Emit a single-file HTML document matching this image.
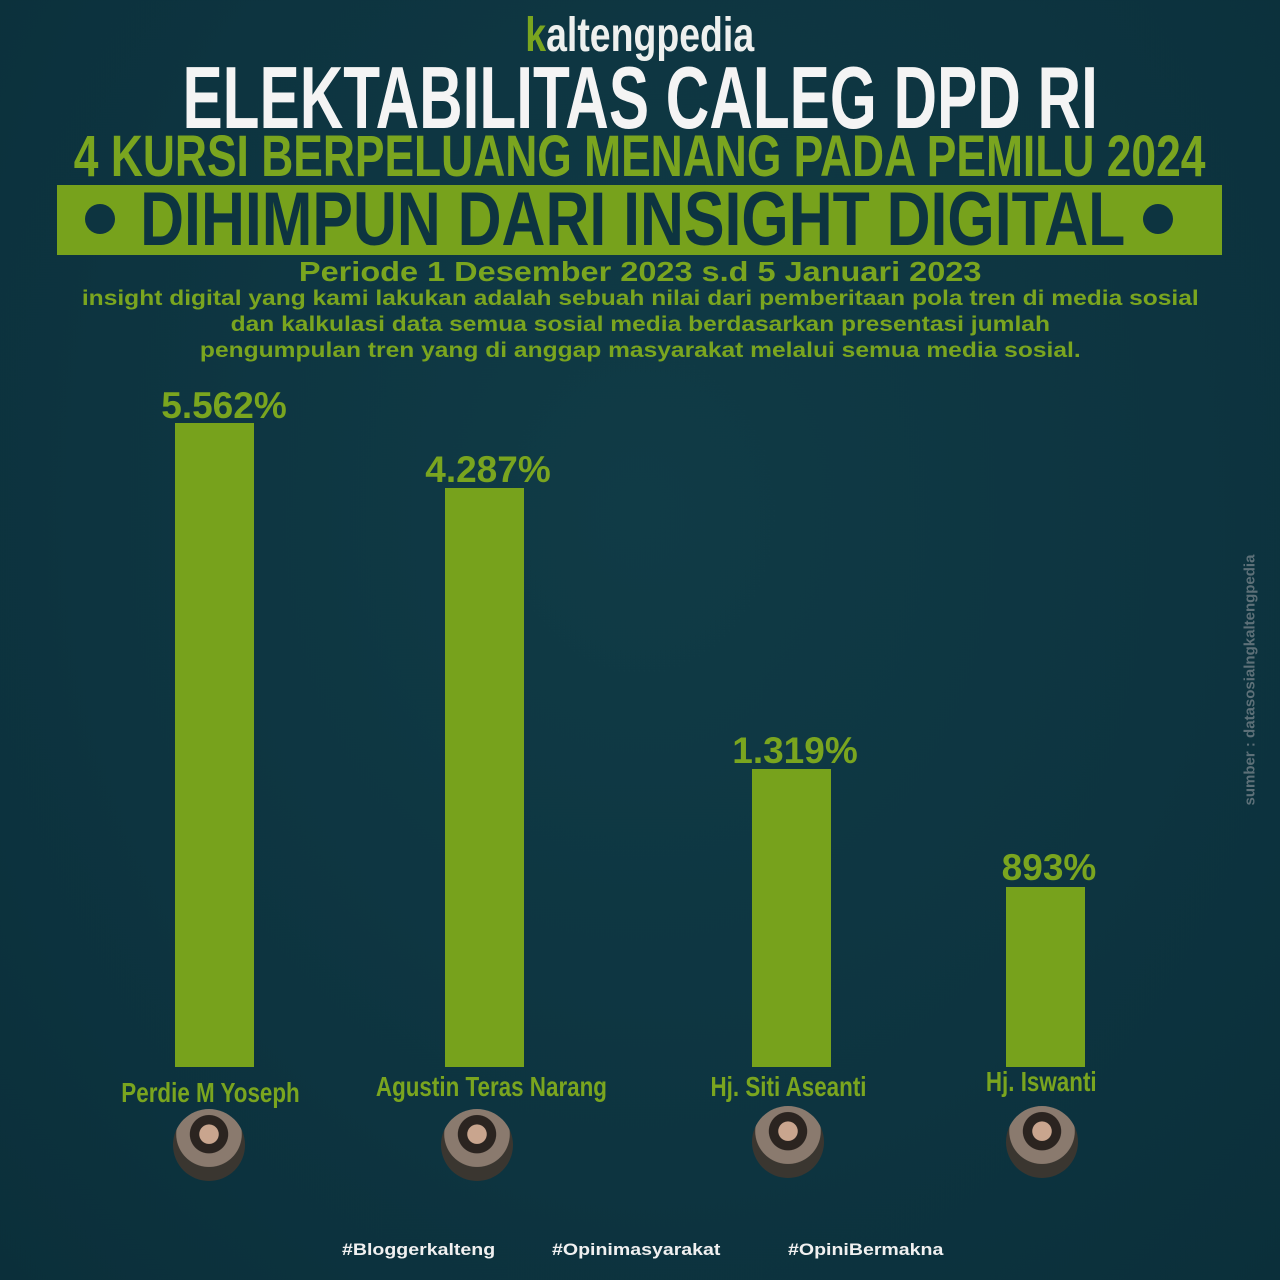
<!DOCTYPE html>
<html><head><meta charset="utf-8"><style>
html,body{margin:0;padding:0}
body{width:1280px;height:1280px;position:relative;overflow:hidden;background:radial-gradient(ellipse at 50% 40%,#103b46 0%,#0d3440 60%,#0b2f3a 100%);font-family:"Liberation Sans",sans-serif;font-weight:bold}
.c{position:absolute;left:-1000px;width:3280px;text-align:center;white-space:nowrap}
.c span{display:inline-block}
.g{color:#7aa51f}
.bar{position:absolute;background:#77a21c;bottom:213px;width:79px}
.lab{position:absolute;width:240px;text-align:center;color:#7aa51f;font-size:37px;white-space:nowrap}
.nm{position:absolute;width:300px;text-align:center;color:#7aa51f;font-size:28px;white-space:nowrap}
.nm span{display:inline-block;transform:scaleX(0.8)}
.ph{position:absolute;width:72px;height:72px;border-radius:50%;background:radial-gradient(circle at 50% 35%,#c9a58e 0 16%,#2b2420 17% 32%,#8a7a6e 33% 55%,#3a3630 56%)}
.ht{position:absolute;top:1240px;color:#f0f0f0;font-size:17px;white-space:nowrap}
.ht span{display:inline-block;transform:scaleX(1.15);transform-origin:left}
</style></head><body>
<div class="c" style="top:8px;font-size:48px;color:#eef0ee"><span style="transform:scaleX(0.78)"><span style="color:#7aa51f">k</span>altengpedia</span></div>
<div class="c" style="top:54px;font-size:88px;color:#f4f4f4;line-height:88px"><span style="transform:scaleX(0.685)">ELEKTABILITAS CALEG DPD RI</span></div>
<div class="c g" style="top:128px;font-size:58px;line-height:58px"><span style="transform:scaleX(0.765)">4 KURSI BERPELUANG MENANG PADA PEMILU 2024</span></div>
<div style="position:absolute;left:57px;top:185px;width:1165px;height:70px;background:#77a21c"></div>
<div style="position:absolute;left:85px;top:204px;width:30px;height:30px;border-radius:50%;background:#0d3440"></div>
<div style="position:absolute;left:1143px;top:204px;width:30px;height:30px;border-radius:50%;background:#0d3440"></div>
<div class="c" style="top:182px;font-size:76px;line-height:76px;color:#0d3440;left:-1007px"><span style="transform:scaleX(0.8)">DIHIMPUN DARI INSIGHT DIGITAL</span></div>
<div class="c g" style="top:256px;font-size:28px;line-height:32px"><span style="transform:scaleX(1.16)">Periode 1 Desember 2023 s.d 5 Januari 2023</span></div>
<div class="c g" style="top:286px;font-size:21px;line-height:26px"><span style="transform:scaleX(1.17)">insight digital yang kami lakukan adalah sebuah nilai dari pemberitaan pola tren di media sosial<br>dan kalkulasi data semua sosial media berdasarkan presentasi jumlah<br>pengumpulan tren yang di anggap masyarakat melalui semua media sosial.</span></div>

<div class="bar" style="left:175px;top:423px"></div>
<div class="bar" style="left:445px;top:488px"></div>
<div class="bar" style="left:752px;top:769px"></div>
<div class="bar" style="left:1006px;top:887px"></div>
<div class="lab" style="left:104px;top:385px">5.562%</div>
<div class="lab" style="left:368px;top:449px">4.287%</div>
<div class="lab" style="left:675px;top:730px">1.319%</div>
<div class="lab" style="left:929px;top:847px">893%</div>

<div class="nm" style="left:61px;top:1077px"><span>Perdie M Yoseph</span></div>
<div class="nm" style="left:341px;top:1071px"><span>Agustin Teras Narang</span></div>
<div class="nm" style="left:639px;top:1071px"><span>Hj. Siti Aseanti</span></div>
<div class="nm" style="left:891px;top:1066px"><span>Hj. Iswanti</span></div>
<div class="ph" style="left:173px;top:1109px"></div>
<div class="ph" style="left:441px;top:1109px"></div>
<div class="ph" style="left:752px;top:1106px"></div>
<div class="ph" style="left:1006px;top:1106px"></div>

<div class="ht" style="left:342px"><span>#Bloggerkalteng</span></div>
<div class="ht" style="left:552px"><span>#Opinimasyarakat</span></div>
<div class="ht" style="left:788px"><span>#OpiniBermakna</span></div>
<div style="position:absolute;left:1250px;top:680px;transform:translate(-50%,-50%) rotate(-90deg);color:#5d7078;font-size:15px;white-space:nowrap">sumber : datasosialngkaltengpedia</div>
</body></html>
